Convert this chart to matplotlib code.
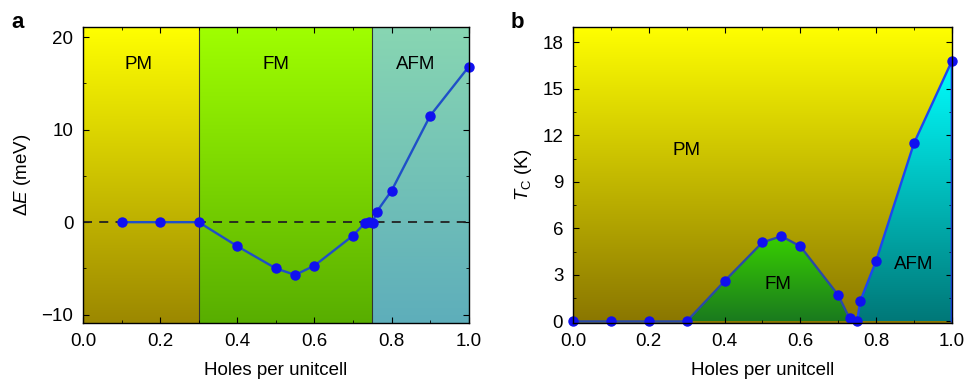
import numpy as np
import matplotlib.pyplot as plt
from matplotlib.colors import LinearSegmentedColormap
from matplotlib.patches import Polygon
from matplotlib.ticker import MultipleLocator, FormatStrFormatter

plt.rcParams['font.family'] = ['Liberation Sans', 'DejaVu Sans']
plt.rcParams['mathtext.fontset'] = 'custom'
plt.rcParams['mathtext.rm'] = 'Liberation Sans'
plt.rcParams['mathtext.it'] = 'Liberation Sans:italic'
plt.rcParams['axes.unicode_minus'] = True

FS = 13.5

# panel a: energy difference vs hole doping
holes_a = [0.1, 0.2, 0.3, 0.4, 0.5, 0.55, 0.6, 0.7, 0.732, 0.741, 0.751, 0.761, 0.8, 0.9, 1.0]
dE = [0.0, 0.0, 0.0, -2.6, -5.0, -5.7, -4.7, -1.45, -0.05, 0.0, -0.05, 1.1, 3.4, 11.5, 16.8]
bounds_a = [0.0, 0.3, 0.75, 1.0]
phases_a = ['PM', 'FM', 'AFM']

# panel b: Tc vs hole doping
holes_b = [0.0, 0.1, 0.2, 0.3, 0.4, 0.5, 0.55, 0.6, 0.7, 0.73, 0.75, 0.758, 0.8, 0.9, 1.0]
tc = [0.0, 0.0, 0.0, 0.0, 2.6, 5.1, 5.5, 4.85, 1.7, 0.2, 0.0, 1.3, 3.9, 11.5, 16.8]
fm_idx = slice(3, 11)   # points bounding FM dome
afm_idx = slice(10, 15)  # points bounding AFM region


def grad(ax, x0, x1, y0, y1, top, bottom, clip=None):
    cm = LinearSegmentedColormap.from_list('g', [bottom, top])
    im = ax.imshow(np.linspace(0, 1, 256).reshape(-1, 1), cmap=cm, origin='lower',
                   extent=[x0, x1, y0, y1], aspect='auto', zorder=0, interpolation='bilinear')
    if clip is not None:
        im.set_clip_path(clip)
    return im


def style(ax):
    ax.tick_params(which='both', direction='in', top=True, right=True, labelsize=FS,
                   pad=7)
    ax.tick_params(which='major', length=4)
    ax.tick_params(which='minor', length=2.5)
    ax.xaxis.set_major_locator(MultipleLocator(0.2))
    ax.xaxis.set_minor_locator(MultipleLocator(0.1))
    ax.xaxis.set_major_formatter(FormatStrFormatter('%.1f'))
    ax.set_xlabel('Holes per unitcell', fontsize=FS, labelpad=9)


fig = plt.figure(figsize=(9.69, 3.8), dpi=100)
axa = fig.add_axes([0.0857, 0.15, 0.398, 0.779])
axb = fig.add_axes([0.5913, 0.15, 0.391, 0.779])

# ---- panel a
ylo, yhi = -10.9, 21.1
cols_a = [('#ffff00', '#9c8800'), ('#a0ff00', '#58ae00'), ('#88d6b2', '#5eaebb')]
for i in range(3):
    grad(axa, bounds_a[i], bounds_a[i + 1], ylo, yhi, cols_a[i][0], cols_a[i][1])
for b in bounds_a[1:3]:
    axa.axvline(b, color='#333333', lw=0.8, zorder=1)
axa.axhline(0, color='#222222', ls=(0, (5, 4)), lw=1.3, zorder=2)
axa.plot(holes_a, dE, '-', color='#1f4fc8', lw=1.7, zorder=3)
axa.plot(holes_a, dE, 'o', color='#1010f0', ms=6.5, zorder=4, clip_on=False)
for i, p in enumerate(phases_a):
    axa.text([0.143, 0.50, 0.863][i], 17.0, p, fontsize=FS, ha='center', va='center')
axa.set_xlim(0, 1)
axa.set_ylim(ylo, yhi)
style(axa)
axa.yaxis.set_major_locator(MultipleLocator(10))
axa.yaxis.set_minor_locator(MultipleLocator(5))
axa.set_ylabel(r'$\Delta E$ (meV)', fontsize=FS, labelpad=6)

# ---- panel b
ylo, yhi = -0.1, 19.0
grad(axb, 0, 1, ylo, yhi, '#ffff00', '#8a7600')
fm_poly = Polygon(list(zip(holes_b[fm_idx], tc[fm_idx])), closed=True,
                  transform=axb.transData)
grad(axb, 0.3, 0.75, 0, max(tc[fm_idx]), '#38d000', '#1a7a1e', clip=fm_poly)
afm_pts = list(zip(holes_b[afm_idx], tc[afm_idx])) + [(1.0, 0.0)]
afm_poly = Polygon(afm_pts, closed=True, transform=axb.transData)
grad(axb, 0.75, 1.0, 0, max(tc[afm_idx]), '#00ffff', '#007878', clip=afm_poly)
axb.plot(holes_b[:11], tc[:11], '-', color='#2a4aa8', lw=1.7, zorder=3)
axb.plot(holes_b[10:] + [1.0], tc[10:] + [0.0], '-', color='#1e46f0', lw=1.7, zorder=3,
         clip_on=False)
axb.plot(holes_b, tc, 'o', color='#1010f0', ms=6.5, zorder=4, clip_on=False)
axb.text(0.30, 11.0, 'PM', fontsize=FS, ha='center', va='center')
axb.text(0.54, 2.4, 'FM', fontsize=FS, ha='center', va='center')
axb.text(0.90, 3.7, 'AFM', fontsize=FS, ha='center', va='center')
axb.set_xlim(0, 1)
axb.set_ylim(ylo, yhi)
style(axb)
axb.yaxis.set_major_locator(MultipleLocator(3))
axb.yaxis.set_minor_locator(MultipleLocator(1.5))
axb.yaxis.set_major_formatter(FormatStrFormatter('%d'))
axb.set_ylabel(r'$T_{\mathrm{C}}$ (K)', fontsize=FS, labelpad=6)

for ax in (axa, axb):
    for s in ax.spines.values():
        s.set_linewidth(1.0)
        s.set_zorder(5)

fig.text(0.012, 0.925, 'a', fontsize=16, fontweight='bold')
fig.text(0.527, 0.925, 'b', fontsize=16, fontweight='bold')

fig.savefig('out.png', dpi=100)
